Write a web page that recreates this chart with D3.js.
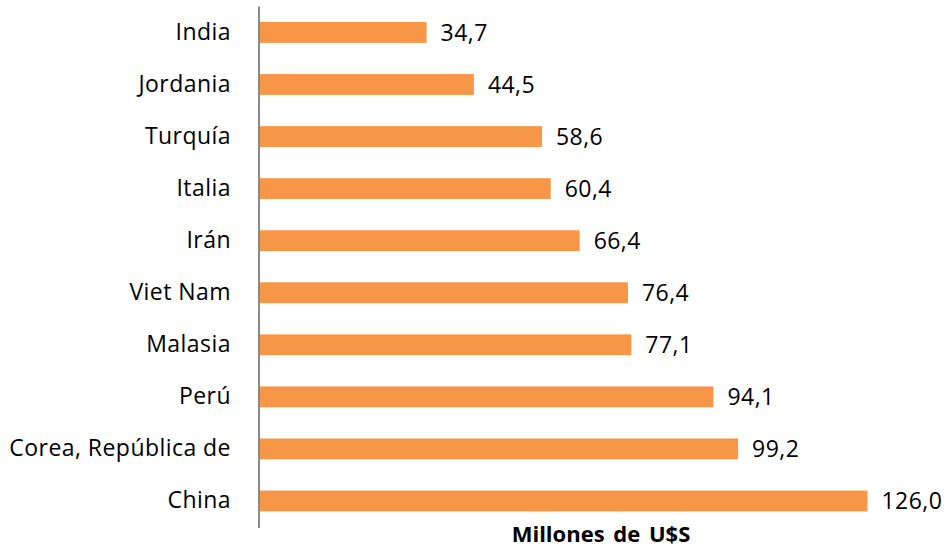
<!DOCTYPE html>
<html>
<head>
<meta charset="utf-8">
<script src="https://cdn.jsdelivr.net/npm/d3@7"></script>
<style>
  body { margin: 0; background: #fff; }
  text { font-family: "Open Sans", sans-serif; fill: #000; }
</style>
</head>
<body>
<div id="chart"></div>
<script>
var countries = ["India", "Jordania", "Turquía", "Italia", "Irán", "Viet Nam", "Malasia", "Perú", "Corea, República de", "China"];
var values = [34.7, 44.5, 58.6, 60.4, 66.4, 76.4, 77.1, 94.1, 99.2, 126.0];
var axisTitle = "Millones de U$S";

var width = 948, height = 549;

var data = countries.map(function(c, i) { return {name: c, value: values[i]}; });

var x = d3.scaleLinear().domain([0, 126]).range([259, 867.5]);
var y = d3.scaleBand()
  .domain(countries)
  .range([6.4, 527])
  .paddingInner(0.6)
  .paddingOuter(0.3);

var fmt = function(v) { return d3.format(".1f")(v).replace(".", ","); };

var svg = d3.select("#chart")
  .append("svg")
  .attr("width", width)
  .attr("height", height);

svg.selectAll("rect.bar")
  .data(data)
  .enter().append("rect")
  .attr("class", "bar")
  .attr("x", x(0))
  .attr("y", function(d) { return y(d.name); })
  .attr("width", function(d) { return x(d.value) - x(0); })
  .attr("height", y.bandwidth())
  .attr("fill", "#F79646");

// category axis
var yAxis = svg.append("g")
  .attr("transform", "translate(" + x(0) + ",0)")
  .call(d3.axisLeft(y).tickSize(0).tickPadding(28));
yAxis.select(".domain")
  .attr("d", "M0,6.4V528")
  .attr("stroke", "#898989")
  .attr("stroke-width", 2);
yAxis.selectAll("text")
  .style("font-size", "23px")
  .style("letter-spacing", "0.45px")
  .style("font-family", "'Open Sans', sans-serif")
  .attr("fill", "#000");

svg.selectAll("text.val")
  .data(data)
  .enter().append("text")
  .attr("class", "val")
  .attr("x", function(d) { return x(d.value) + 14; })
  .attr("y", function(d) { return y(d.name) + y.bandwidth() / 2; })
  .attr("dy", "0.36em")
  .style("font-size", "23px")
  .style("letter-spacing", "0.45px")
  .text(function(d) { return fmt(d.value); });

svg.append("text")
  .attr("x", 601)
  .attr("y", 542)
  .attr("text-anchor", "middle")
  .style("font-size", "22px")
  .style("font-weight", "bold")
  .style("word-spacing", "3px")
  .text(axisTitle);
</script>
</body>
</html>
